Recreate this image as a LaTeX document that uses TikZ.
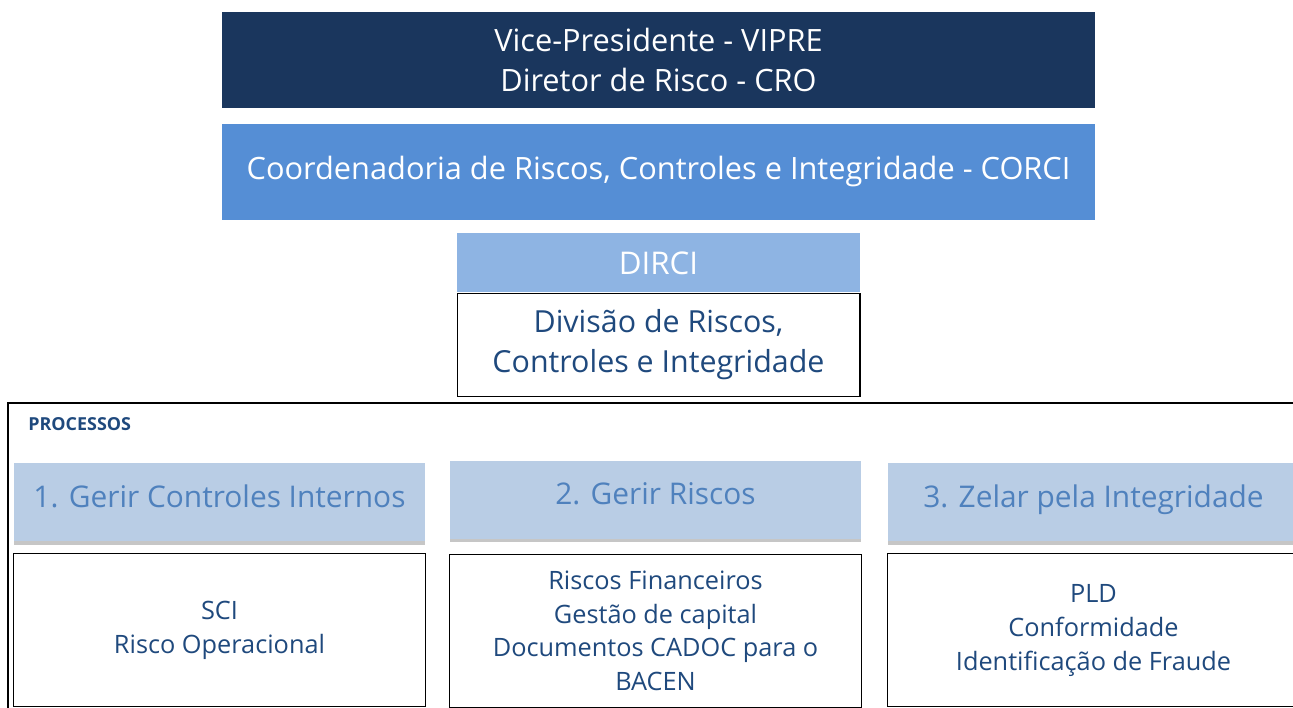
\documentclass[tikz,border=0pt]{standalone}
\usepackage{fontspec}
\setmainfont{Open Sans}
\usepackage{tikz}
\usetikzlibrary{positioning,shadows}

\definecolor{navy}{HTML}{1A365D}
\definecolor{corciblue}{HTML}{558ED5}
\definecolor{dirciblue}{HTML}{8EB4E3}
\definecolor{headblue}{HTML}{B9CDE5}
\definecolor{headtext}{HTML}{4F81BD}
\definecolor{darkblue}{HTML}{1F497D}

\tikzset{
	topbox/.style={rectangle, minimum width=17.46cm, minimum height=1.92cm, text=white, align=center, font=\fontsize{17.5}{22.7}\selectfont},
	procbox/.style={rectangle, fill=headblue, minimum width=8.22cm, minimum height=1.56cm, text=headtext, font=\fontsize{17}{20}\selectfont, drop shadow={shadow xshift=0pt, shadow yshift=-0.07cm, opacity=0.45}},
	itembox/.style={draw, rectangle, line width=0.6pt, fill=white, minimum width=8.24cm, minimum height=3.06cm, text=darkblue, align=center, font=\fontsize{14.4}{19.3}\selectfont}
}

\begin{document}
\begin{tikzpicture}[x=0.02cm, y=-0.02cm]
				\useasboundingbox (0,0) rectangle (1293,707);
				
				% Frame
				\draw[line width=0.6pt] (8,720) |- (1310,403);
				
				\node (vipre) [topbox, fill=navy] at (658.5,60) {Vice-Presidente - VIPRE\\Diretor de Risco - CRO};
				\node (corci) [topbox, fill=corciblue, below=0.3cm of vipre] {Coordenadoria de Riscos, Controles e Integridade - CORCI};
				\node (dirci) [rectangle, fill=dirciblue, minimum width=8.06cm, minimum height=1.18cm, text=white, font=\fontsize{17.8}{20}\selectfont, below=0.26cm of corci] {DIRCI};
				\node (divisao) [draw, rectangle, line width=0.6pt, minimum width=8.06cm, minimum height=2.06cm, text=darkblue, align=center, font=\fontsize{17.3}{22.7}\selectfont, below=0cm of dirci] {Divisão de Riscos,\\Controles e Integridade};
				
				\node (processos) [anchor=west, inner sep=0pt, text=darkblue, font=\bfseries\fontsize{10.2}{12}\selectfont] at (28,424) {PROCESSOS};
				
				% Processes
				\node (gerir1) [procbox] at (219.5,502) {\raisebox{0.24cm}{1. Gerir Controles Internos}};
				\node (gerir2) [procbox] at (655.5,499.5) {\raisebox{0.24cm}{2. Gerir Riscos}};
				\node (zelar3) [procbox] at (1093.5,502) {\raisebox{0.24cm}{3. Zelar pela Integridade}};
				
				\node (sci) [itembox, below=0.24cm of gerir1] {SCI\\Risco Operacional};
				\node (riscos) [itembox, below=0.3cm of gerir2] {Riscos Financeiros\\Gestão de capital\\Documentos CADOC para o\\BACEN};
				\node (pld) [itembox, below=0.24cm of zelar3] {PLD\\Conformidade\\Identificação de Fraude};
				
			\end{tikzpicture}
\end{document}
